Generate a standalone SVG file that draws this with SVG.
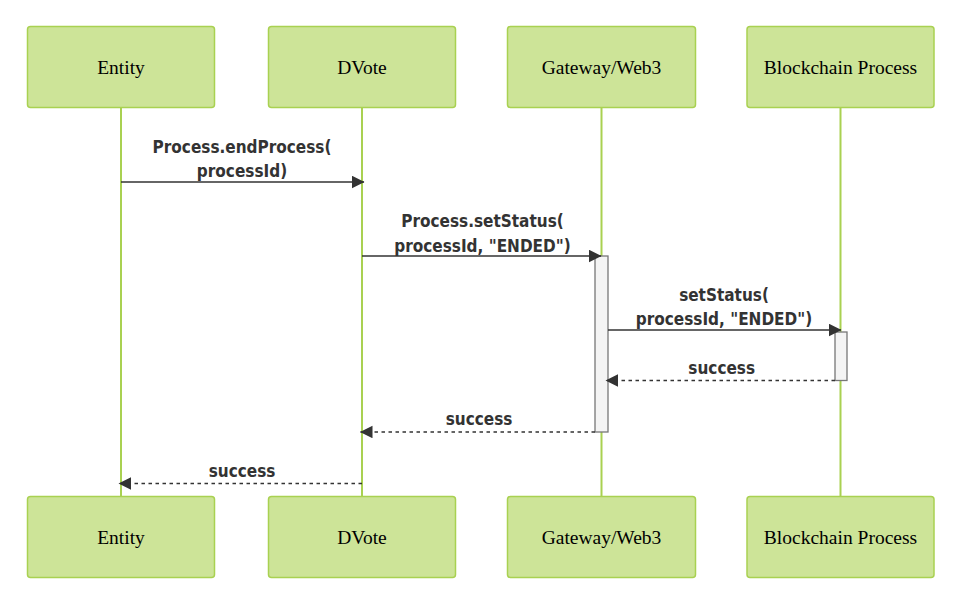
<svg xmlns="http://www.w3.org/2000/svg" width="960" height="604" viewBox="0 0 960 604">
<style>
.actor{fill:#cde498;stroke:#a9d151;stroke-width:1.5}
.atext{font-family:"Liberation Serif","Times New Roman",serif;font-size:19.5px;fill:#000;text-anchor:middle}
.life{stroke:#a9d151;stroke-width:2}
.act{fill:#f4f4f4;stroke:#777;stroke-width:1.3}
.msg{stroke:#333;stroke-width:1.7;fill:none}
.dash{stroke-dasharray:3.5,3.5}
.mtext{font-family:"DejaVu Sans Condensed","DejaVu Sans",sans-serif;font-stretch:condensed;font-weight:bold;font-size:17px;fill:#333;text-anchor:middle}
</style>
<defs>
<marker id="arrow" markerWidth="13" markerHeight="13" refX="12" refY="6.25" orient="auto" markerUnits="userSpaceOnUse">
<path d="M0,0 L12.5,6.25 L0,12.5 z" fill="#333"/>
</marker>
</defs>
<rect width="960" height="604" fill="#fff"/>
<g id="lifelines">
<line class="life" x1="121" y1="108" x2="121" y2="496"/>
<line class="life" x1="362" y1="108" x2="362" y2="496"/>
<line class="life" x1="601.5" y1="108" x2="601.5" y2="496"/>
<line class="life" x1="840.5" y1="108" x2="840.5" y2="496"/>
</g>
<g id="entity-top"><rect class="actor" x="27.5" y="26.5" width="187" height="81" rx="3"/><text class="atext" x="121" y="74">Entity</text></g>
<g id="dvote-top"><rect class="actor" x="268.5" y="26.5" width="187" height="81" rx="3"/><text class="atext" x="362" y="74">DVote</text></g>
<g id="gateway-top"><rect class="actor" x="507.5" y="26.5" width="188" height="81" rx="3"/><text class="atext" x="601.5" y="74">Gateway/Web3</text></g>
<g id="blockchain-top"><rect class="actor" x="747" y="26.5" width="187" height="81" rx="3"/><text class="atext" x="840.5" y="74">Blockchain Process</text></g>
<g id="entity-bottom"><rect class="actor" x="27.5" y="496.5" width="187" height="81" rx="3"/><text class="atext" x="121" y="544">Entity</text></g>
<g id="dvote-bottom"><rect class="actor" x="268.5" y="496.5" width="187" height="81" rx="3"/><text class="atext" x="362" y="544">DVote</text></g>
<g id="gateway-bottom"><rect class="actor" x="507.5" y="496.5" width="188" height="81" rx="3"/><text class="atext" x="601.5" y="544">Gateway/Web3</text></g>
<g id="blockchain-bottom"><rect class="actor" x="747" y="496.5" width="187" height="81" rx="3"/><text class="atext" x="840.5" y="544">Blockchain Process</text></g>
<g id="activations">
<rect class="act" x="595" y="256" width="13" height="176"/>
<rect class="act" x="835" y="332" width="12" height="48.5"/>
</g>
<g id="connectors">
<line class="msg" x1="121" y1="182" x2="364" y2="182" marker-end="url(#arrow)"/>
<line class="msg" x1="362" y1="256" x2="601" y2="256" marker-end="url(#arrow)"/>
<line class="msg" x1="608" y1="330" x2="841" y2="330" marker-end="url(#arrow)"/>
<line class="msg dash" x1="835" y1="380.5" x2="606" y2="380.5" marker-end="url(#arrow)"/>
<line class="msg dash" x1="595" y1="432" x2="360.5" y2="432" marker-end="url(#arrow)"/>
<line class="msg dash" x1="362" y1="483.5" x2="119" y2="483.5" marker-end="url(#arrow)"/>
</g>
<g id="labels">
<text class="mtext" x="242" y="152.5">Process.endProcess(</text>
<text class="mtext" x="242" y="177">processId)</text>
<text class="mtext" x="482.5" y="226.5">Process.setStatus(</text>
<text class="mtext" x="482.5" y="251.5">processId, "ENDED")</text>
<text class="mtext" x="724" y="300.5">setStatus(</text>
<text class="mtext" x="724" y="325">processId, "ENDED")</text>
<text class="mtext" x="721.7" y="374">success</text>
<text class="mtext" x="479" y="424.5">success</text>
<text class="mtext" x="242" y="476.5">success</text>
</g>
</svg>
